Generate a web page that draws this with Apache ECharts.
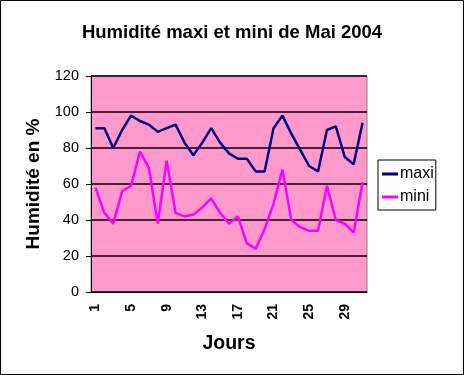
<!DOCTYPE html>
<html><head><meta charset="utf-8">
<script src="https://cdn.jsdelivr.net/npm/echarts@6/dist/echarts.min.js"></script>
<style>html,body{margin:0;padding:0;background:#fff}#c{width:464px;height:375px}</style>
</head><body><div id="c"></div>
<script>
var days = [];
for (var d = 1; d <= 31; d++) days.push(String(d));
var maxi = [91,91,80,90,98,95,93,89,91,93,83,76,83,91,83,77,74,74,67,67,91,98,88,79,70,67,90,92,75,71,94];
var mini = [58,44,38,56,59,78,69,38,73,44,42,43,47,52,44,38,42,27,24,35,49,68,40,36,34,34,59,40,38,33,61];
var yTicks = {min:0, max:120, interval:20};
var F = 'Arial, "Liberation Sans", sans-serif';
var chart = echarts.init(document.getElementById('c'));
chart.setOption({
  animation:false,
  backgroundColor:'#fff',
  title:{text:'Humidité maxi et mini de Mai 2004', left:'center', top:18,
    textStyle:{fontFamily:F, fontSize:18.5, fontWeight:'bold', color:'#000'}},
  legend:{orient:'vertical', left:378, top:160, itemGap:7,
    borderColor:'#000', borderWidth:1, borderRadius:0, padding:[6,2,5,4],
    itemWidth:16, itemHeight:3, icon:'rect', itemStyle:{borderWidth:0},
    textStyle:{fontFamily:F, fontSize:16, color:'#000', padding:[0,0,0,-3]},
    data:['maxi','mini']},
  grid:{left:91, right:97, top:76, bottom:83, show:true, backgroundColor:'#FF99CC', borderColor:'#808080', borderWidth:1},
  xAxis:{type:'category', data:days, boundaryGap:true,
    name:'Jours', nameLocation:'middle', nameGap:42,
    nameTextStyle:{fontFamily:F, fontSize:19.5, fontWeight:'bold', color:'#000'},
    axisLine:{lineStyle:{color:'#000', width:1}},
    axisTick:{interval:0, length:4, lineStyle:{color:'#000'}},
    axisLabel:{interval:3, rotate:90, fontFamily:F, fontSize:14, fontWeight:'bold', color:'#000', margin:12}},
  yAxis:{type:'value', min:yTicks.min, max:yTicks.max, interval:yTicks.interval,
    name:'Humidité en %', nameLocation:'middle', nameGap:48,
    nameTextStyle:{fontFamily:F, fontSize:19, fontWeight:'bold', color:'#000'},
    axisLine:{show:true, lineStyle:{color:'#000', width:1}},
    axisTick:{show:true, length:5, lineStyle:{color:'#000'}},
    splitLine:{lineStyle:{color:'#000', width:1.5}},
    axisLabel:{fontFamily:F, fontSize:14.5, color:'#000', margin:12}},
  series:[
    {name:'maxi', type:'line', data:maxi, symbol:'none', lineStyle:{color:'#000080', width:2.5}, itemStyle:{color:'#000080'}},
    {name:'mini', type:'line', data:mini, symbol:'none', lineStyle:{color:'#FF00FF', width:2.5}, itemStyle:{color:'#FF00FF'}}
  ],
  graphic:[{type:'rect', shape:{x:0.5, y:0.5, width:463, height:374}, style:{fill:'none', stroke:'#000', lineWidth:1}, silent:true}]
});
</script></body></html>
